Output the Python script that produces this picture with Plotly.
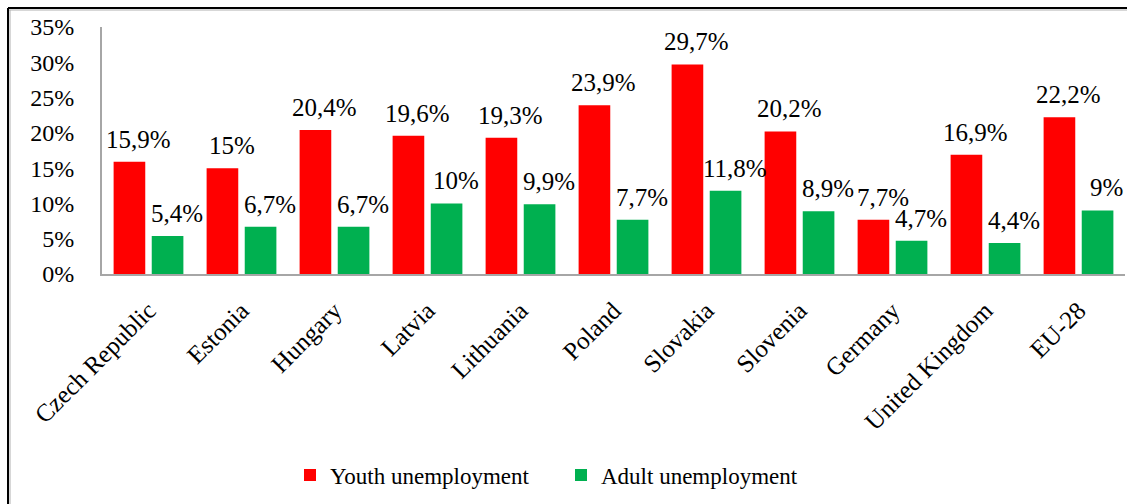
import plotly.graph_objects as go

countries = ["Czech Republic", "Estonia", "Hungary", "Latvia", "Lithuania", "Poland",
             "Slovakia", "Slovenia", "Germany", "United Kingdom", "EU-28"]
youth = [15.9, 15, 20.4, 19.6, 19.3, 23.9, 29.7, 20.2, 7.7, 16.9, 22.2]
adult = [5.4, 6.7, 6.7, 10, 9.9, 7.7, 11.8, 8.9, 4.7, 4.4, 9]
y_ticks = [0, 5, 10, 15, 20, 25, 30, 35]
y_tick_text = [f"{v}%" for v in y_ticks]

FONT = "Liberation Serif"
RED = "#FF0000"
GREEN = "#00B050"

def fmt(v):
    return f"{v:g}".replace(".", ",") + "%"

fig = go.Figure()
fig.add_trace(go.Bar(x=countries, y=youth, name="Youth unemployment",
                     marker=dict(color=RED, line=dict(width=0))))
fig.add_trace(go.Bar(x=countries, y=adult, name="Adult unemployment",
                     marker=dict(color=GREEN, line=dict(width=0))))

annotations = []
for c, v in zip(countries, youth):
    annotations.append(dict(x=c, y=v, text=fmt(v), showarrow=False, xref="x", yref="y",
                            xanchor="center", yanchor="bottom", xshift=-10, yshift=7,
                            font=dict(family=FONT, size=25, color="black")))
for c, v in zip(countries, adult):
    annotations.append(dict(x=c, y=v, text=fmt(v), showarrow=False, xref="x", yref="y",
                            xanchor="center", yanchor="bottom", xshift=28, yshift=7,
                            font=dict(family=FONT, size=25, color="black")))

L, T, B, R = 102, 27, 230, 2
W, H = 1127, 504
pw = W - L - R
ph = H - T - B

def px_x(px):
    return (px - L) / pw

def px_y(py):
    return (H - B - py) / ph

shapes = [
    dict(type="line", xref="paper", yref="paper", x0=px_x(8), x1=px_x(1127), y0=px_y(8), y1=px_y(8),
         line=dict(color="black", width=2)),
    dict(type="line", xref="paper", yref="paper", x0=px_x(9), x1=px_x(1127), y0=px_y(10), y1=px_y(10),
         line=dict(color="#b0b0b0", width=1)),
    dict(type="line", xref="paper", yref="paper", x0=px_x(8), x1=px_x(8), y0=px_y(8), y1=px_y(504),
         line=dict(color="black", width=2)),
    dict(type="line", xref="paper", yref="paper", x0=px_x(10), x1=px_x(10), y0=px_y(10), y1=px_y(504),
         line=dict(color="#b0b0b0", width=1)),
]

fig.update_layout(
    width=W, height=H,
    margin=dict(l=L, r=R, t=T, b=B),
    paper_bgcolor="white", plot_bgcolor="white",
    barmode="group", bargap=0.18, bargroupgap=0.17,
    font=dict(family=FONT, size=23, color="black"),
    showlegend=True,
    legend=dict(orientation="h", x=px_x(290), xanchor="left", y=px_y(475), yanchor="middle",
                font=dict(family=FONT, size=23, color="black"),
                entrywidth=226, entrywidthmode="pixels", bgcolor="rgba(0,0,0,0)"),
    annotations=annotations,
    shapes=shapes,
)
fig.update_xaxes(showline=True, linecolor="#a6a6a6", linewidth=2, tickangle=-45,
                 ticks="", showgrid=False, zeroline=False, ticklabelstandoff=10,
                 tickfont=dict(family=FONT, size=25, color="black"))
fig.update_yaxes(range=[0, 35], tickmode="array", tickvals=y_ticks, ticktext=y_tick_text,
                 showline=True, linecolor="#a6a6a6", linewidth=2, ticks="", showgrid=False,
                 zeroline=False, ticklabelstandoff=21,
                 tickfont=dict(family=FONT, size=24, color="black"))

fig.write_html("out.html")
